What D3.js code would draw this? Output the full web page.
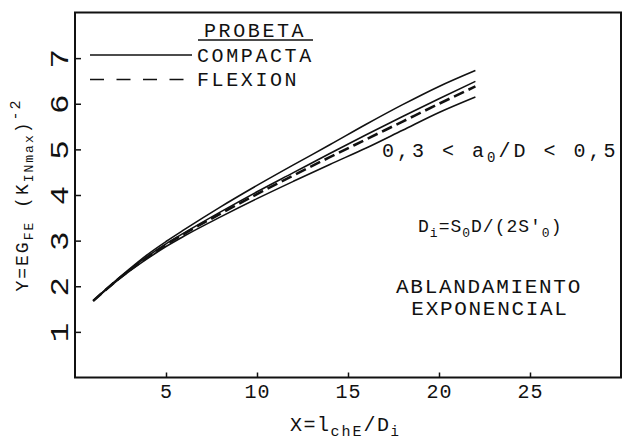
<!DOCTYPE html>
<html>
<head>
<meta charset="utf-8">
<script src="https://cdn.jsdelivr.net/npm/d3@7/dist/d3.min.js"></script>
<style>
  html, body { margin: 0; padding: 0; background: #fff; }
  svg { display: block; }
  text { font-family: "Liberation Mono", "DejaVu Sans Mono", monospace; fill: #111; white-space: pre; }
</style>
</head>
<body>
<svg id="chart" width="623" height="440"></svg>
<script>
// ---- data ----
const xValues   = [1, 2, 3, 4, 5, 6, 8, 10, 12, 14, 16, 18, 20, 22];
const compactaUpper = [1.68, 2.04, 2.38, 2.70, 2.98, 3.24, 3.74, 4.21, 4.66, 5.10, 5.55, 5.98, 6.38, 6.73];
const compactaMid   = [1.68, 2.03, 2.36, 2.66, 2.93, 3.17, 3.63, 4.07, 4.49, 4.91, 5.32, 5.72, 6.11, 6.49];
const compactaLower = [1.68, 2.02, 2.33, 2.61, 2.87, 3.10, 3.52, 3.92, 4.30, 4.67, 5.03, 5.42, 5.81, 6.15];
const flexion       = [1.68, 2.03, 2.35, 2.64, 2.91, 3.15, 3.59, 4.02, 4.43, 4.83, 5.22, 5.61, 6.00, 6.38];
const xTicks = [5, 10, 15, 20, 25];
const yTicks = [1, 2, 3, 4, 5, 6, 7];
const legendTitle = "PROBETA";
const legendLabels = ["COMPACTA", "FLEXION"];

// ---- layout ----
const svg = d3.select("#chart");
const mLeft = 75, mRight = 621, mTop = 12.5, mBottom = 377.5;
const x = d3.scaleLinear().domain([0, 30]).range([mLeft, mRight]);
const y = d3.scaleLinear().domain([0, 8]).range([mBottom, mTop]);
const ink = "#111";
const FONT = "Liberation Mono";

// frame
svg.append("rect")
  .attr("x", mLeft).attr("y", mTop)
  .attr("width", mRight - mLeft).attr("height", mBottom - mTop)
  .attr("fill", "none").attr("stroke", ink).attr("stroke-width", 2);

// x axis
const gx = svg.append("g").attr("transform", `translate(0,${mBottom})`)
  .call(d3.axisBottom(x).tickValues(xTicks).tickSizeInner(-5).tickSizeOuter(0));
gx.select(".domain").remove();
gx.selectAll(".tick line").attr("stroke", ink).attr("stroke-width", 1.5);
gx.selectAll(".tick text")
  .attr("y", 20.5).attr("dy", 0)
  .attr("font-size", 20).attr("letter-spacing", 1)
  .attr("font-family", FONT).attr("fill", ink);

// y axis
const gy = svg.append("g").attr("transform", `translate(${mLeft},0)`)
  .call(d3.axisLeft(y).tickValues(yTicks).tickSizeInner(-6).tickSizeOuter(0));
gy.select(".domain").remove();
gy.selectAll(".tick line").attr("stroke", ink).attr("stroke-width", 1.5);
gy.selectAll(".tick text")
  .attr("x", 0).attr("y", 0).attr("dy", 0)
  .attr("text-anchor", "middle")
  .attr("transform", "translate(-7,0) rotate(-90) scale(1.3,1)")
  .attr("font-size", 25)
  .attr("font-family", FONT).attr("fill", ink);

// curves
const line = d3.line().x(d => x(d[0])).y(d => y(d[1])).curve(d3.curveMonotoneX);
const pairs = ys => xValues.map((v, i) => [v, ys[i]]);
[compactaUpper, compactaMid, compactaLower].forEach(s => {
  svg.append("path").datum(pairs(s))
    .attr("d", line).attr("fill", "none")
    .attr("stroke", ink).attr("stroke-width", 1.6);
});
svg.append("path").datum(pairs(flexion))
  .attr("d", line).attr("fill", "none")
  .attr("stroke", ink).attr("stroke-width", 2.6)
  .attr("stroke-dasharray", "11,5");

// legend
const lg = svg.append("g");
lg.append("text").attr("x", 204).attr("y", 37)
  .attr("font-size", 20).attr("letter-spacing", 2.6).text(legendTitle);
lg.append("line").attr("x1", 198).attr("x2", 313).attr("y1", 40).attr("y2", 40)
  .attr("stroke", ink).attr("stroke-width", 1.5);
lg.append("line").attr("x1", 90).attr("x2", 192).attr("y1", 55).attr("y2", 55)
  .attr("stroke", ink).attr("stroke-width", 1.6);
lg.append("line").attr("x1", 90).attr("x2", 184).attr("y1", 79.5).attr("y2", 79.5)
  .attr("stroke", ink).attr("stroke-width", 1.6).attr("stroke-dasharray", "14,12.5");
lg.append("text").attr("x", 197).attr("y", 62)
  .attr("font-size", 20).attr("letter-spacing", 2.6).text(legendLabels[0]);
lg.append("text").attr("x", 197).attr("y", 86)
  .attr("font-size", 20).attr("letter-spacing", 2.6).text(legendLabels[1]);

// annotation: 0,3 < a0/D < 0,5
const t1 = svg.append("text").attr("x", 382).attr("y", 157)
  .attr("font-size", 20).attr("letter-spacing", 3);
t1.append("tspan").text("0,3 < a");
t1.append("tspan").attr("font-size", 14).attr("dy", 5).text("0");
t1.append("tspan").attr("dy", -5).text("/D < 0,5");

// annotation: Di=S0D/(2S'0)
const t2 = svg.append("text").attr("x", 418).attr("y", 232)
  .attr("font-size", 18).attr("letter-spacing", 1);
t2.append("tspan").text("D");
t2.append("tspan").attr("font-size", 13).attr("dy", 5).text("i");
t2.append("tspan").attr("dy", -5).text("=S");
t2.append("tspan").attr("font-size", 13).attr("dy", 5).text("0");
t2.append("tspan").attr("dy", -5).text("D/(2S′");
t2.append("tspan").attr("font-size", 13).attr("dy", 5).text("0");
t2.append("tspan").attr("dy", -5).text(")");

// annotation: ABLANDAMIENTO EXPONENCIAL
svg.append("text").attr("x", 489).attr("y", 293).attr("text-anchor", "middle")
  .attr("font-size", 21).attr("letter-spacing", 1.7).text("ABLANDAMIENTO");
svg.append("text").attr("x", 490).attr("y", 315).attr("text-anchor", "middle")
  .attr("font-size", 21).attr("letter-spacing", 1.7).text("EXPONENCIAL");

// x label: X=l_chE/D_i
const xl = svg.append("text").attr("x", 290).attr("y", 431)
  .attr("font-size", 20).attr("letter-spacing", 1.5);
xl.append("tspan").text("X=l");
xl.append("tspan").attr("font-size", 15).attr("letter-spacing", 2).attr("dy", 5).text("chE");
xl.append("tspan").attr("dy", -5).text("/D");
xl.append("tspan").attr("font-size", 14).attr("dy", 5).text("i");

// y label: Y=EG_FE (K_INmax)^-2
const yl = svg.append("text")
  .attr("transform", "translate(28,195) rotate(-90)")
  .attr("text-anchor", "middle")
  .attr("font-size", 18).attr("letter-spacing", 2);
yl.append("tspan").text("Y=EG");
yl.append("tspan").attr("font-size", 13).attr("dy", 5).text("FE");
yl.append("tspan").attr("dy", -5).text(" (K");
yl.append("tspan").attr("font-size", 13).attr("dy", 5).text("INmax");
yl.append("tspan").attr("dy", -5).text(")");
yl.append("tspan").attr("font-size", 15).attr("dy", -8).text("-2");
</script>
</body>
</html>
